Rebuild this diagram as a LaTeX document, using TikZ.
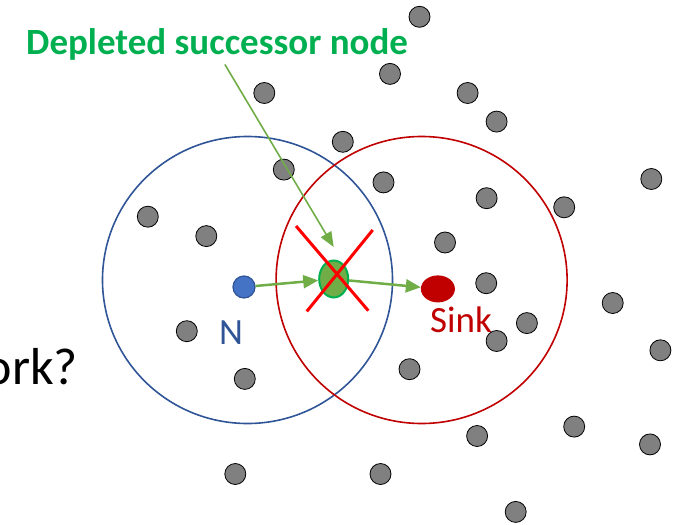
\documentclass[tikz,border=0pt]{standalone}
\usepackage{fontspec}
\setmainfont{Carlito}
\usetikzlibrary{arrows.meta,shapes.geometric}
\definecolor{dotgray}{RGB}{128,128,128}
\definecolor{nblue}{RGB}{47,85,151}
\definecolor{nfill}{RGB}{68,114,196}
\definecolor{sinkred}{RGB}{192,0,0}
\definecolor{agreen}{RGB}{112,173,71}
\definecolor{tgreen}{RGB}{0,176,80}
\tikzset{
  dot/.style={circle,draw=black,fill=dotgray,minimum size=21pt,inner sep=0pt,line width=0.8pt},
  rangeN/.style={ellipse,draw=nblue,line width=1.6pt,minimum width=290pt,minimum height=287pt,inner sep=0pt},
  rangeS/.style={ellipse,draw=sinkred,line width=1.6pt,minimum width=291pt,minimum height=287pt,inner sep=0pt},
  flow/.style={draw=agreen,line width=2.5pt,-{Triangle[length=15pt,width=13pt]}},
  pointer/.style={draw=agreen,line width=1.6pt,-{Triangle[length=15pt,width=12pt]}},
  cross/.style={draw=red,line width=3pt},
  lbl/.style={inner sep=0pt,anchor=base west,font=\fontsize{37}{37}\selectfont}
}
\begin{document}
\begin{tikzpicture}[x=1pt,y=-1pt]
\useasboundingbox (0,0) rectangle (676,524);
\node[rangeN] (rN) at (247.5,280) {};
\node[rangeS] (rS) at (421.6,280) {};
\foreach \i/\x/\y in {1/419.5/16.8,2/390/73.9,3/264.3/93,4/467.6/93,5/496.6/121.6,6/342.8/141.8,7/283.8/169.6,8/383.5/182.4,9/651.3/179,10/147.8/216.7,11/206.3/236.1,12/486.6/198.2,13/564.2/207.3,14/445/242.5,15/486.2/283.2,16/612.7/303,17/186.8/331.2,18/526.9/323.1,19/496.6/341,20/660.4/350.3,21/244.8/378.9,22/409.5/369.2,23/477.1/436,24/574.2/426.6,25/650/444.4,26/235.3/474,27/380.5/474,28/515.7/511.9}
  \node[dot] (d\i) at (\x,\y) {};
\node[circle,draw=nblue,fill=nfill,line width=1.2pt,minimum size=22pt,inner sep=0pt] (N) at (244,287) {};
\node[ellipse,draw=tgreen,fill=agreen,line width=2pt,minimum width=29pt,minimum height=37pt,inner sep=0pt] (G) at (333.7,279) {};
\node[ellipse,fill=sinkred,minimum width=34pt,minimum height=27pt,inner sep=0pt] (S) at (437.9,288.9) {};
\draw[flow] (N) -- (G);
\draw[flow] (G) -- (S);
\coordinate (x1a) at (296,226); \coordinate (x1b) at (368.3,310.7);
\coordinate (x2a) at (372.7,230); \coordinate (x2b) at (306.8,311.4);
\draw[cross] (x1a) -- (x1b);
\draw[cross] (x2a) -- (x2b);
\node[lbl,text=tgreen,font=\bfseries\fontsize{37}{37}\selectfont] (title) at (26,54.8) {Depleted successor node};
\coordinate (pstart) at (224.9,64.5);
\coordinate (ptip) at (333.7,247);
\draw[pointer] (pstart) -- (ptip);
\node[lbl,text=sinkred] (sinklbl) at (430,332.5) {Sink};
\node[lbl,text=nblue] (Nlbl) at (219,344.5) {N};
\node[lbl,font=\fontsize{52}{52}\selectfont] (ork) at (-15.5,384) {ork?};
\end{tikzpicture}
\end{document}
